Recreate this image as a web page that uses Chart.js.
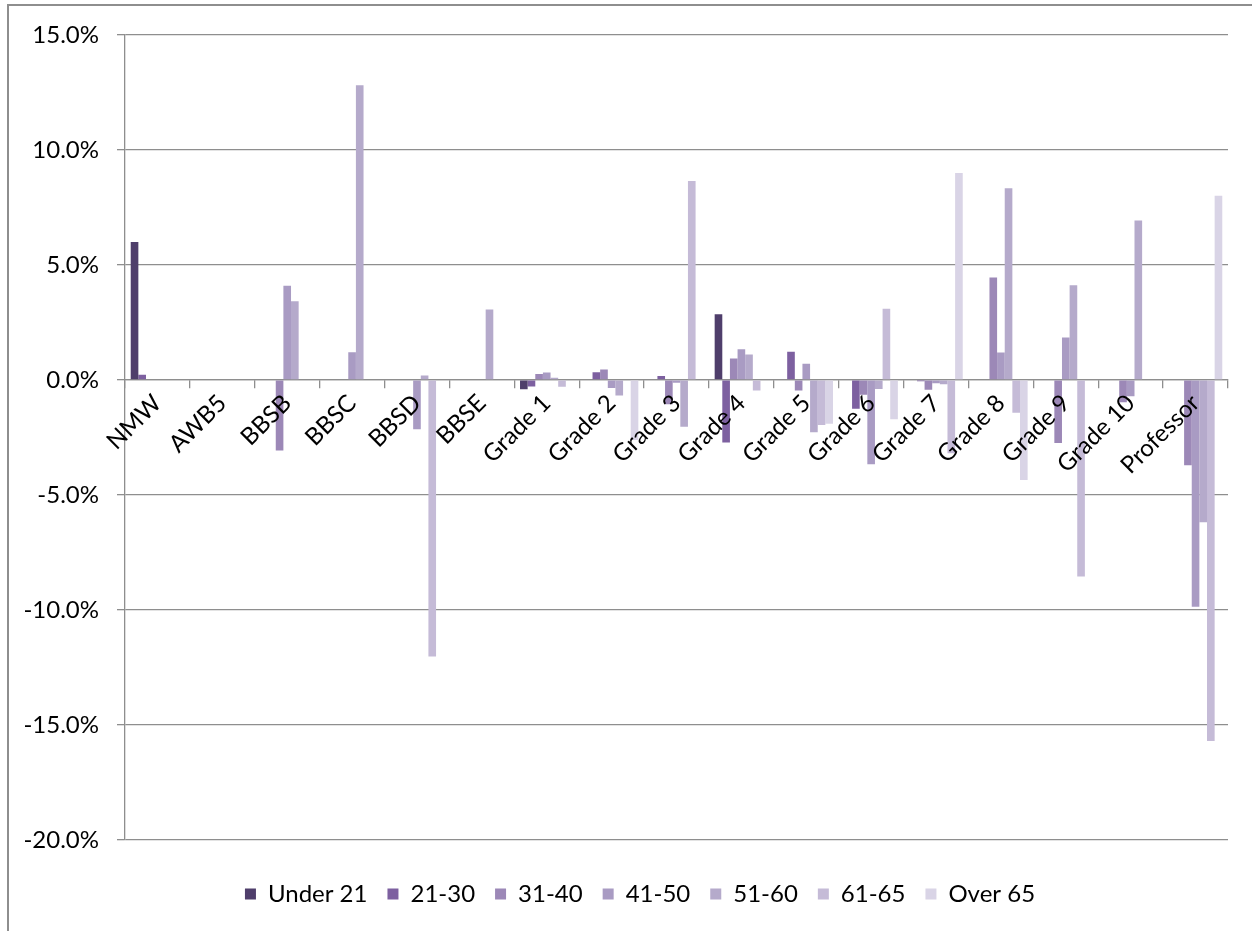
<!DOCTYPE html>
<html>
<head>
<meta charset="utf-8">
<title>Pay change by grade and age band</title>
<script src="https://cdn.jsdelivr.net/npm/chart.js@4.4.1/dist/chart.umd.min.js"></script>
<style>
  html, body { margin: 0; padding: 0; background: #fff; overflow: hidden; }
  #moldura { position: absolute; left: 7px; top: 4px; width: 1400px; height: 1100px; border: 2px solid #8e8e8e; }
  #area { position: absolute; left: 0; top: 0; width: 1280px; height: 931px; }
</style>
</head>
<body>
<div id="moldura"></div>
<div id="area"><canvas id="grafico"></canvas></div>
<script>
// categories along the x axis
const grades = ["NMW", "AWB5", "BBSB", "BBSC", "BBSD", "BBSE", "Grade 1", "Grade 2", "Grade 3",
  "Grade 4", "Grade 5", "Grade 6", "Grade 7", "Grade 8", "Grade 9", "Grade 10", "Professor"];

// values in %, one per grade
const under21 = [6.0, 0, 0, 0, 0, 0, -0.41, 0, 0, 2.86, 0, 0, 0, 0, 0, 0, 0];
const age21to30 = [0.22, 0, 0, 0, 0, 0, -0.29, 0.33, 0.17, -2.72, 1.22, -1.25, -0.06, 0, 0, 0, 0];
const age31to40 = [0, 0, -3.07, 0, 0, 0, 0.26, 0.45, -1.06, 0.93, -0.46, -0.65, -0.43, 4.45, -2.74, -0.97, -3.71];
const age41to50 = [0, 0, 4.10, 1.20, -2.15, 0, 0.32, -0.35, -0.12, 1.33, 0.70, -3.67, -0.14, 1.19, 1.84, -0.71, -9.87];
const age51to60 = [0, 0, 3.42, 12.81, 0.19, 3.06, 0.09, -0.68, -2.04, 1.10, -2.28, -0.39, -0.19, 8.33, 4.12, 6.93, -6.19];
const age61to65 = [0, 0, 0, 0, -12.03, 0, -0.30, 0, 8.65, -0.46, -1.96, 3.09, -3.19, -1.43, -8.55, 0, -15.70];
const over65 = [0, 0, 0, 0, 0, 0, 0, -2.61, 0, 0, -1.91, -1.71, 9.0, -4.35, 0, 0, 8.01];

const seriesNames = ["Under 21", "21-30", "31-40", "41-50", "51-60", "61-65", "Over 65"];
const seriesValues = [under21, age21to30, age31to40, age41to50, age51to60, age61to65, over65];
const seriesColours = ["#4f3e6b", "#7d60a0", "#9c88b7", "#a99bc3", "#b5aacb", "#c5bbd7", "#d9d4e6"];

// y axis range and step, %
const yMin = -20;
const yMax = 15;
const yStep = 5;

document.addEventListener("DOMContentLoaded", () => {
  const corGrade = "#8e8e8e";
  Chart.defaults.font.family = "Lato";

  new Chart(document.getElementById("grafico"), {
    type: "bar",
    data: {
      labels: grades,
      datasets: seriesNames.map((nome, i) => ({
        label: nome,
        data: seriesValues[i],
        backgroundColor: seriesColours[i],
        borderWidth: 0,
        categoryPercentage: 7 / 8.5,
        barPercentage: 1.0
      }))
    },
    options: {
      responsive: true,
      maintainAspectRatio: false,
      animation: false,
      layout: { padding: { left: 0, top: 35, right: 0, bottom: 15 } },
      plugins: {
        tooltip: { enabled: false },
        legend: {
          position: "bottom",
          title: { display: true, text: "", font: { size: 1 }, padding: { top: 0, bottom: 21 } },
          labels: {
            boxWidth: 11,
            boxHeight: 11,
            padding: 20,
            color: "#000",
            font: { family: "Lato", size: 24 }
          }
        }
      },
      scales: {
        x: {
          position: { y: 0 },
          offset: true,
          grid: { display: true, drawOnChartArea: false, drawTicks: true, tickLength: 8, offset: true, color: corGrade, lineWidth: 1.3 },
          border: { display: true, color: corGrade, width: 1.3 },
          ticks: { z: 1, autoSkip: false, maxRotation: 45, minRotation: 45, padding: 1, color: "#000", font: { family: "Lato", size: 24 } }
        },
        y: {
          min: yMin,
          max: yMax,
          grid: { color: corGrade, lineWidth: 1.3, tickLength: 8 },
          border: { display: true, color: corGrade, width: 1.3 },
          ticks: {
            stepSize: yStep,
            padding: 18,
            color: "#000",
            font: { family: "Lato", size: 24 },
            callback: (v) => v.toFixed(1) + "%"
          },
          afterFit: (escala) => { escala.width = 125; }
        },
        // empty right-hand axis, only reserves space so the legend stays centred
        margem: {
          type: "linear",
          position: "right",
          display: true,
          grid: { display: false },
          border: { display: false },
          ticks: { display: false },
          afterFit: (escala) => { escala.width = 52; }
        }
      }
    }
  });
});
</script>
</body>
</html>
